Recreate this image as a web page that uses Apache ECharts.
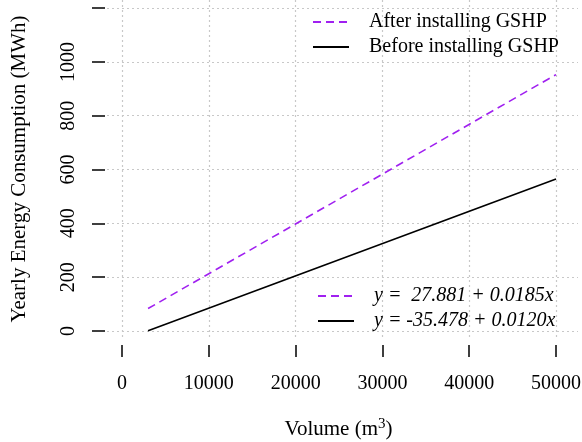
<!DOCTYPE html>
<html>
<head>
<meta charset="utf-8">
<script src="https://cdn.jsdelivr.net/npm/echarts@6/dist/echarts.min.js"></script>
<style>
  html, body { margin: 0; padding: 0; background: #fff; }
  #chart { width: 582px; height: 442px; }
</style>
</head>
<body>
<div id="chart"></div>
<script>
// values (two fitted lines, endpoints)
const volume = [3000, 50000]
const afterGSHP = [83.4, 952.9]
const beforeGSHP = [0.5, 564.5]

const xTicks = [0, 10000, 20000, 30000, 40000, 50000]
const yTicks = [0, 200, 400, 600, 800, 1000, 1200]
const yLabels = [0, 200, 400, 600, 800, 1000]

const seriesNames = ['After installing GSHP', 'Before installing GSHP']
const fitNames = ['y =  27.881 + 0.0185x', 'y = -35.478 + 0.0120x']

const font = 'Liberation Serif'
const purple = '#a020f0'

const chart = echarts.init(document.getElementById('chart'))

const pairs = (xs, ys) => xs.map((x, i) => [x, ys[i]])

const legendBase = {
  orient: 'vertical',
  itemWidth: 36,
  itemHeight: 14,
  itemGap: 5,
  itemStyle: { opacity: 0 }
}

const option = {
  animation: false,
  textStyle: { fontFamily: font, color: '#000' },
  grid: { left: 107, right: 4, top: 0, bottom: 104, containLabel: false, outerBoundsMode: 'none' },
  xAxis: {
    type: 'value',
    min: -1730,
    max: 52530,
    offset: 7,
    name: 'Volume (m{sup|3})',
    nameLocation: 'middle',
    nameGap: 72,
    nameTextStyle: {
      fontFamily: font, fontSize: 21, color: '#000', padding: [0, 8, 0, 0],
      rich: { sup: { fontFamily: font, fontSize: 15, verticalAlign: 'top', padding: [0, 0, 10, 0] } }
    },
    axisLine: { show: false, onZero: false },
    axisTick: { show: true, length: 12, customValues: xTicks, lineStyle: { color: '#000', width: 1.5 } },
    axisLabel: { customValues: xTicks, margin: 29, fontFamily: font, fontSize: 20, color: '#000', formatter: v => String(v) },
    splitLine: { show: true, lineStyle: { color: '#c8c8c8', type: [2, 3], width: 1.2 } }
  },
  yAxis: {
    type: 'value',
    min: -26,
    max: 1230,
    offset: 2,
    name: 'Yearly Energy Consumption (MWh)',
    nameLocation: 'middle',
    nameRotate: 90,
    nameGap: 75,
    nameTextStyle: { fontFamily: font, fontSize: 21, color: '#000' },
    axisLine: { show: false, onZero: false },
    axisTick: { show: true, length: 13, customValues: yTicks, lineStyle: { color: '#000', width: 1.5 } },
    axisLabel: { customValues: yLabels, rotate: 90, margin: 26, fontFamily: font, fontSize: 20, color: '#000', formatter: v => String(v) },
    splitLine: { show: true, lineStyle: { color: '#c8c8c8', type: [2, 3], width: 1.2 } }
  },
  legend: [
    Object.assign({}, legendBase, {
      data: seriesNames,
      left: 307,
      top: 7,
      textStyle: { fontFamily: font, fontSize: 20, color: '#000', padding: [0, 0, 0, 15] }
    }),
    Object.assign({}, legendBase, {
      data: fitNames,
      left: 312,
      top: 281,
      textStyle: { fontFamily: font, fontSize: 20, fontStyle: 'italic', color: '#000', padding: [0, 0, 0, 15] }
    })
  ],
  series: [
    {
      name: seriesNames[0],
      type: 'line',
      data: pairs(volume, afterGSHP),
      symbol: 'none',
      lineStyle: { color: purple, width: 1.6, type: [8, 5] },
      itemStyle: { color: purple }
    },
    {
      name: seriesNames[1],
      type: 'line',
      data: pairs(volume, beforeGSHP),
      symbol: 'none',
      lineStyle: { color: '#000', width: 1.6 },
      itemStyle: { color: '#000' }
    },
    // legend-only entries for the fitted equations
    {
      name: fitNames[0],
      type: 'line',
      data: [],
      symbol: 'none',
      lineStyle: { color: purple, width: 1.6, type: [8, 5] },
      itemStyle: { color: purple }
    },
    {
      name: fitNames[1],
      type: 'line',
      data: [],
      symbol: 'none',
      lineStyle: { color: '#000', width: 1.6 },
      itemStyle: { color: '#000' }
    }
  ]
}

chart.setOption(option)
</script>
</body>
</html>
